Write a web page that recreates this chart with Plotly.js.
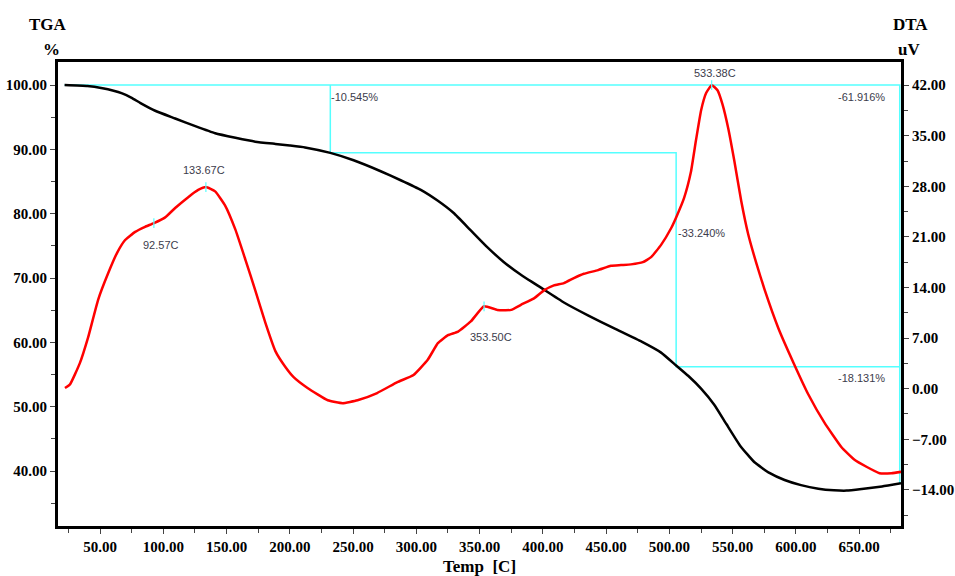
<!DOCTYPE html>
<html>
<head>
<meta charset="utf-8">
<script src="https://cdn.plot.ly/plotly-3.0.1.min.js"></script>
<style>html,body{margin:0;padding:0;background:#fff;}#chart{width:955px;height:576px;}</style>
</head>
<body>
<div id="chart"></div>
<script>
// ---- TGA (weight %) ----
const tgaTemp = [22, 40, 52, 60, 67.5, 75, 82, 93.6, 109.4, 125.3, 141, 157, 172.7, 188.6, 200, 212, 232, 250.4, 271.8, 287.6, 303.5, 317, 329.5, 343, 356, 369, 382.6, 398.4, 416.6, 435.6, 456, 478, 493.4, 505.3, 514.8, 525, 535.4, 545, 556, 567, 579, 591, 604, 617.7, 630, 640, 652, 668, 683];
const tgaPct  = [100, 99.85, 99.5, 99.15, 98.7, 98.0, 97.2, 96.0, 94.8, 93.6, 92.5, 91.8, 91.2, 90.85, 90.6, 90.3, 89.45, 88.3, 86.6, 85.2, 83.7, 82.0, 80.1, 77.4, 74.8, 72.5, 70.5, 68.5, 66.2, 64.2, 62.2, 60.1, 58.4, 56.4, 54.8, 52.8, 50.3, 47.3, 43.9, 41.4, 39.7, 38.6, 37.8, 37.25, 37.0, 36.95, 37.2, 37.6, 38.1];

// ---- DTA (uV) ----
const dtaTemp = [22.3, 26.3, 34, 40.6, 48.5, 56.5, 63.5, 70, 77.8, 85.6, 92.6, 101.5, 109.4, 119.7, 127.6, 133.7, 141, 149, 157, 165, 172.7, 180.7, 188.6, 196.5, 203, 214, 230, 241.7, 253.5, 269, 285, 297.8, 309, 317, 325, 333, 343, 353.5, 364, 375, 382.6, 393, 400.8, 408.7, 416.6, 424.5, 432.4, 443.5, 453.8, 461.7, 469.6, 479, 485.5, 493.4, 501.3, 505.3, 511.6, 517, 521, 525, 529, 533.4, 538, 542, 546.5, 551.2, 556.7, 562.2, 568.6, 575, 586, 598, 609.8, 622.5, 636, 646, 655.7, 666, 675.5, 683.5];
const dtaUv   = [0.1, 0.6, 3.5, 7.1, 12.3, 16.0, 18.8, 20.6, 21.7, 22.4, 22.9, 23.7, 25.0, 26.5, 27.5, 27.9, 27.3, 25.3, 22.0, 17.8, 13.6, 9.1, 5.2, 3.0, 1.6, 0.1, -1.6, -2.0, -1.6, -0.6, 0.9, 1.9, 4.0, 6.3, 7.4, 7.9, 9.3, 11.4, 10.9, 10.9, 11.6, 12.5, 13.6, 14.3, 14.6, 15.3, 15.9, 16.4, 17.0, 17.1, 17.2, 17.5, 18.2, 19.9, 22.2, 23.7, 26.4, 30.0, 34.4, 38.5, 40.9, 42.0, 41.3, 39.3, 36.0, 31.6, 26.0, 21.4, 17.4, 13.8, 8.4, 3.6, -0.8, -4.7, -8.1, -9.8, -10.8, -11.7, -11.7, -11.5];

// ---- DTA peaks ----
const peakTemp = [92.57, 133.67, 353.50, 533.38];
const peakUv   = [22.9, 27.9, 11.4, 42.0];

// ---- TGA step analysis ----
const stepStart = 22;
const stepEnd = 682;
const stepTemps = [232, 505.3];          // boundaries between steps
const stepLoss = [-10.545, -33.240, -18.131];
const totalLoss = -61.916;

const ser = "Liberation Serif";
const sans = "Liberation Sans";
const annColor = "#3c3c4c";
const cyan = "#55ffff";

// build step line from the step values
const lvl1 = 100 + stepLoss[0];
const lvl2 = lvl1 + stepLoss[1];
const lvlEnd = 100 + totalLoss;
const stepX = [stepStart, stepEnd, stepEnd, null, stepTemps[0], stepTemps[0], stepTemps[1], stepTemps[1], stepEnd];
const stepY = [100, 100, lvlEnd, null, 100, lvl1, lvl1, lvl2, lvl2];

const traces = [
  {x: stepX, y: stepY, xaxis: 'x', yaxis: 'y', mode: 'lines', line: {color: cyan, width: 1.5}, hoverinfo: 'skip', connectgaps: false},
  {x: tgaTemp, y: tgaPct, xaxis: 'x', yaxis: 'y', mode: 'lines', line: {color: '#000000', width: 2.5, shape: 'spline', smoothing: 0.4}},
  {x: dtaTemp, y: dtaUv, xaxis: 'x', yaxis: 'y2', mode: 'lines', line: {color: '#ff0000', width: 2.5, shape: 'spline', smoothing: 0.4}},
  {x: peakTemp, y: peakUv, xaxis: 'x', yaxis: 'y2', mode: 'markers', marker: {symbol: 'line-ns', size: 7, line: {color: cyan, width: 1.2}}}
];

const tickFont = {family: ser, size: 15, color: '#000', weight: 'bold'};
const titleFont = {family: ser, size: 17, color: '#000', weight: 'bold'};
const annFont = {family: sans, size: 11, color: annColor};

const annotations = [];
// peak labels
const peakShift = [[7, -22], [-2, 17], [7, -31], [3, 12]];
peakTemp.forEach((t, i) => {
  annotations.push({x: t, y: peakUv[i], xref: 'x', yref: 'y2', text: t.toFixed(2) + 'C', showarrow: false,
    xanchor: 'center', yanchor: 'middle',
    xshift: peakShift[i][0], yshift: peakShift[i][1], font: annFont});
});
// step labels
annotations.push({x: stepTemps[0], y: 100, xref: 'x', yref: 'y', text: stepLoss[0].toFixed(3) + '%', showarrow: false, xanchor: 'left', yanchor: 'middle', xshift: -1, yshift: -12, font: annFont});
annotations.push({x: stepTemps[1], y: 77.0, xref: 'x', yref: 'y', text: stepLoss[1].toFixed(3) + '%', showarrow: false, xanchor: 'left', yanchor: 'middle', xshift: 0, font: annFont});
annotations.push({x: 670, y: lvl2, xref: 'x', yref: 'y', text: stepLoss[2].toFixed(3) + '%', showarrow: false, xanchor: 'right', yanchor: 'middle', xshift: 2, yshift: -11, font: annFont});
annotations.push({x: 670, y: 100, xref: 'x', yref: 'y', text: totalLoss.toFixed(3) + '%', showarrow: false, xanchor: 'right', yanchor: 'middle', xshift: 2, yshift: -12, font: annFont});
// axis titles
const pw = 955 - 58 - 54, ph = 526 - 62;
const px = (X) => (X - 58) / pw;
const py = (Y) => (526 - Y) / ph;
const ttl = (X, Y, t) => ({xref: 'paper', yref: 'paper', x: px(X), y: py(Y), text: t, showarrow: false, xanchor: 'center', yanchor: 'middle', font: titleFont});
annotations.push(ttl(48, 24, 'TGA'));
annotations.push(ttl(51, 50, '%'));
annotations.push(ttl(910, 24, 'DTA'));
annotations.push(ttl(909, 50, 'uV'));
annotations.push(ttl(479, 566, 'Temp  [C]'));

const layout = {
  width: 955, height: 576,
  margin: {l: 58, r: 54, t: 62, b: 50, pad: 0},
  paper_bgcolor: '#ffffff', plot_bgcolor: '#ffffff',
  showlegend: false,
  xaxis: {
    range: [16.8, 683], tick0: 0, dtick: 50, tickformat: '.2f',
    showgrid: false, zeroline: false,
    showline: true, linecolor: '#000', linewidth: 3, mirror: true,
    ticks: 'outside', ticklen: 5, tickcolor: '#444', tickwidth: 1,
    minor: {dtick: 25, tick0: 0, ticks: 'outside', ticklen: 4, tickcolor: '#444'},
    tickfont: tickFont
  },
  yaxis: {
    range: [31.45, 103.58], tick0: 0, dtick: 10, tickformat: '.2f',
    showgrid: false, zeroline: false,
    showline: true, linecolor: '#000', linewidth: 3,
    ticks: 'outside', ticklen: 5, tickcolor: '#444', tickwidth: 1,
    minor: {dtick: 5, tick0: 0, ticks: 'outside', ticklen: 4, tickcolor: '#444'},
    tickfont: tickFont
  },
  yaxis2: {
    overlaying: 'y', side: 'right',
    range: [-19.0, 45.2], tick0: 0, dtick: 7, tickformat: '.2f',
    showgrid: false, zeroline: false,
    showline: true, linecolor: '#000', linewidth: 3,
    ticks: 'outside', ticklen: 5, tickcolor: '#444', tickwidth: 1,
    minor: {dtick: 3.5, tick0: 0, ticks: 'outside', ticklen: 4, tickcolor: '#444'},
    tickfont: tickFont
  },
  annotations: annotations
};

Plotly.newPlot('chart', traces, layout, {staticPlot: true, displayModeBar: false});
</script>
</body>
</html>
